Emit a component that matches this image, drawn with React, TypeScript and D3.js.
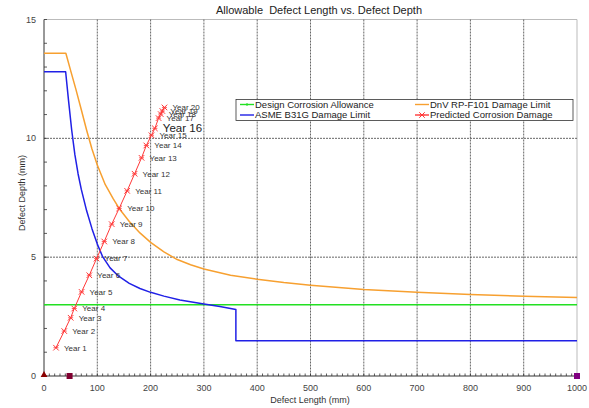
import * as d3 from 'd3';

// Allowable defect length vs defect depth chart

const W = 589;
const H = 408;
const M = { top: 19.5, right: 12, bottom: 32, left: 44 };
const FONT = '"Liberation Sans", Arial, sans-serif';

const lengthTicks = [0, 100, 200, 300, 400, 500, 600, 700, 800, 900, 1000];
const depthTicks = [0, 5, 10, 15];

const allowanceLength = [0, 1000];
const allowanceDepth = [3, 3];

const dnvLength = [0, 41, 50, 60, 70, 80, 90, 100, 115, 130, 141, 160, 180, 200, 225, 250, 275, 300, 350, 400, 450, 500, 600, 700, 800, 900, 1000];
const dnvDepth = [13.58, 13.58, 12.85, 12.05, 11.2, 10.34, 9.55, 8.88, 8.05, 7.45, 7.05, 6.5, 6.02, 5.62, 5.22, 4.9, 4.68, 4.5, 4.24, 4.07, 3.93, 3.82, 3.64, 3.52, 3.43, 3.36, 3.3];

const asmeLength = [0, 40.6, 46, 52, 58, 64, 70, 80, 90, 100, 110, 124, 140, 160, 180, 200, 225, 255, 300, 330, 360, 360, 1000];
const asmeDepth = [12.8, 12.8, 11.6, 10.34, 9.3, 8.5, 7.85, 6.95, 6.2, 5.55, 5.02, 4.55, 4.2, 3.9, 3.68, 3.52, 3.36, 3.2, 3.03, 2.92, 2.8, 1.48, 1.48];

const yearLabels = ['Year 1', 'Year 2', 'Year 3', 'Year 4', 'Year 5', 'Year 6', 'Year 7', 'Year 8', 'Year 9', 'Year 10',
  'Year 11', 'Year 12', 'Year 13', 'Year 14', 'Year 15', 'Year 16', 'Year 17', 'Year 18', 'Year 19', 'Year 20'];
const yearLength = [22.5, 38, 50, 56.8, 70.5, 85, 98.6, 113, 127, 141, 156, 170, 183, 192, 201.6, 208, 215, 219, 222, 226];
const yearDepth = [1.19, 1.89, 2.45, 2.84, 3.54, 4.24, 4.94, 5.66, 6.39, 7.05, 7.79, 8.51, 9.18, 9.7, 10.13, 10.42, 10.85, 11.02, 11.15, 11.3];

const legendNames = ['Design Corrosion Allowance', 'DnV RP-F101 Damage Limit', 'ASME B31G Damage Limit', 'Predicted Corrosion Damage'];
const legendColors = ['#22e022', '#f7a030', '#2020e6', '#ff3838'];

type Pt = [number, number];

export default function App() {
  const x = d3.scaleLinear().domain([0, 1000]).range([M.left, W - M.right]);
  const y = d3.scaleLinear().domain([0, 15]).range([H - M.bottom, M.top]);
  const line = d3.line<Pt>().x((d) => x(d[0])).y((d) => y(d[1]));

  const zip = (a: number[], b: number[]): Pt[] => a.map((v, i) => [v, b[i]]);
  const minorX = d3.range(0, 1001, 10);
  const minorY = d3.range(0, 16, 1);
  const star = d3.symbol(d3.symbolTimes, 22)();
  const x0 = x(0);
  const y0 = y(0);

  return (
    <svg width={W} height={H} style={{ position: 'absolute', left: 0, top: 0, fontFamily: FONT }}>
      <rect width={W} height={H} fill="#fff" />
      <text x={319} y={14} textAnchor="middle" fontSize={11} fill="#222" style={{ whiteSpace: 'pre' }}>
        {'Allowable  Defect Length vs. Defect Depth'}
      </text>

      {/* frame top/right */}
      <line x1={x0} x2={x(1000)} y1={y(15)} y2={y(15)} stroke="#bbb" />
      <line x1={x(1000)} x2={x(1000)} y1={y(15)} y2={y0} stroke="#bbb" />

      {/* grid */}
      {lengthTicks.slice(1, -1).map((t) => (
        <line key={`gx${t}`} x1={x(t)} x2={x(t)} y1={y(15)} y2={y0} stroke="#555" strokeDasharray="2,1" strokeWidth={0.9} />
      ))}
      {depthTicks.slice(1, -1).map((t) => (
        <line key={`gy${t}`} x1={x0} x2={x(1000)} y1={y(t)} y2={y(t)} stroke="#555" strokeDasharray="2,1" strokeWidth={0.9} />
      ))}

      {/* axes */}
      <line x1={x0} x2={x0} y1={y(15)} y2={y0} stroke="#333" />
      <line x1={x0} x2={x(1000)} y1={y0} y2={y0} stroke="#333" />
      {minorX.map((t) => (
        <line key={`mx${t}`} x1={x(t)} x2={x(t)} y1={y0} y2={y0 - 2.5} stroke="#333" strokeWidth={0.8} />
      ))}
      {minorY.map((t) => (
        <line key={`my${t}`} x1={x0} x2={x0 + 3} y1={y(t)} y2={y(t)} stroke="#333" strokeWidth={0.8} />
      ))}
      {lengthTicks.map((t) => (
        <text key={`lx${t}`} x={x(t)} y={y0 + 15} textAnchor="middle" fontSize={9} fill="#444">{t}</text>
      ))}
      {depthTicks.map((t) => (
        <text key={`ly${t}`} x={x0 - 8} y={y(t)} dy="0.35em" textAnchor="end" fontSize={9} fill="#444">{t}</text>
      ))}
      <text x={310} y={403} textAnchor="middle" fontSize={9} fill="#333">Defect Length (mm)</text>
      <text transform={`translate(22,193) rotate(-90)`} textAnchor="middle" dy="0.35em" fontSize={9} fill="#333">Defect Depth (mm)</text>

      {/* series */}
      <path d={line(zip(allowanceLength, allowanceDepth)) ?? ''} fill="none" stroke={legendColors[0]} strokeWidth={1.6} />
      <path d={line(zip(dnvLength, dnvDepth)) ?? ''} fill="none" stroke={legendColors[1]} strokeWidth={1.5} strokeLinejoin="round" />
      <path d={line(zip(asmeLength, asmeDepth)) ?? ''} fill="none" stroke={legendColors[2]} strokeWidth={1.5} strokeLinejoin="round" />
      <path d={line(zip(yearLength, yearDepth)) ?? ''} fill="none" stroke={legendColors[3]} strokeWidth={1} />
      {yearLength.map((v, i) => (
        <g key={`m${i}`} transform={`translate(${x(v)},${y(yearDepth[i])})`}>
          <path d={star} fill="none" stroke={legendColors[3]} strokeWidth={1} />
          <line x1={-2.5} x2={2.5} stroke={legendColors[3]} strokeWidth={0.8} />
        </g>
      ))}
      {yearLength.map((v, i) => (
        <text key={`yl${i}`} x={x(v) + 8} y={y(yearDepth[i])} dy="0.35em"
          fontSize={i === 15 ? 11.5 : 8} fill={i === 15 ? '#222' : '#333'}>{yearLabels[i]}</text>
      ))}

      {/* bottom markers */}
      <path transform={`translate(${x(0)},${y0 - 1})`} d={d3.symbol(d3.symbolTriangle, 20)() ?? ''} fill="#8b0000" />
      <rect x={x(48) - 3} y={y0 - 3} width={6} height={6} fill="#800030" />
      <rect x={x(1000) - 3} y={y0 - 3} width={6} height={6} fill="#800080" />

      {/* legend */}
      <rect x={236} y={99.5} width={337} height={21} fill="#fff" stroke="#333" strokeWidth={0.8} />
      {legendNames.map((name, i) => {
        const lx = i % 2 === 0 ? 240 : 415;
        const ly = i < 2 ? 104.5 : 115;
        return (
          <g key={name}>
            <line x1={lx} x2={lx + 14} y1={ly} y2={ly} stroke={legendColors[i]} strokeWidth={1.4} />
            {i === 0 && <line x1={lx + 7} x2={lx + 7} y1={ly - 1.5} y2={ly + 1.5} stroke={legendColors[i]} />}
            {i === 3 && (
              <g transform={`translate(${lx + 7},${ly})`}>
                <path d={star} fill="none" stroke={legendColors[i]} strokeWidth={1} />
                <line x1={-2.5} x2={2.5} stroke={legendColors[i]} strokeWidth={0.8} />
              </g>
            )}
            <text x={lx + 15} y={ly} dy="0.35em" fontSize={9.5} fill="#222">{name}</text>
          </g>
        );
      })}
    </svg>
  );
}
